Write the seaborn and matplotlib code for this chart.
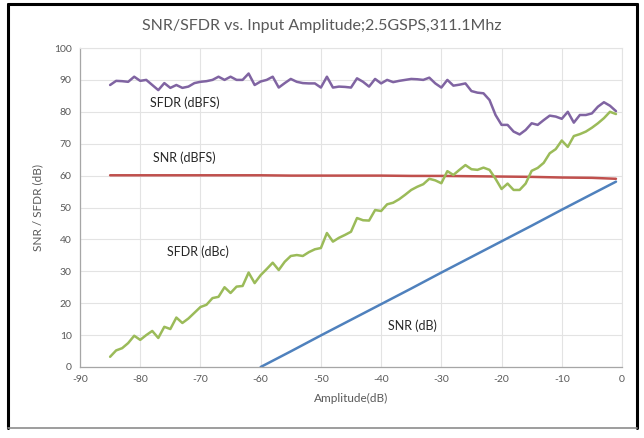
import matplotlib
matplotlib.use("Agg")
import matplotlib.pyplot as plt
from matplotlib.lines import Line2D
import numpy as np
import pandas as pd
import seaborn as sns

# ---------------- data ----------------
amp_full = list(range(-85, 0))  # -85 .. -1 dB

sfdr_dbfs = [88.4, 89.7, 89.6, 89.4, 91.0, 89.7, 90.0, 88.4, 86.8, 89.0,
             87.5, 88.4, 87.5, 87.9, 89.0, 89.4, 89.6, 90.0, 91.0, 90.0,
             91.0, 90.0, 90.0, 92.0, 88.4, 89.5, 90.0, 91.0, 87.6, 89.0,
             90.3, 89.4, 89.0, 88.9, 88.9, 87.6, 91.0, 87.6, 87.9, 87.8,
             87.6, 90.5, 89.4, 87.9, 90.3, 88.9, 90.0, 89.3, 89.7, 90.0,
             90.3, 90.2, 90.0, 90.7, 88.9, 87.6, 90.0, 88.2, 88.5, 88.9,
             86.5, 86.0, 85.8, 83.7, 79.0, 75.9, 75.9, 73.8, 72.9, 74.3,
             76.4, 75.9, 77.4, 78.8, 78.5, 77.8, 80.0, 76.6, 79.0, 79.0,
             79.5, 81.6, 83.0, 81.9, 80.2]

sfdr_dbc = [3.2, 5.2, 5.9, 7.5, 9.8, 8.5, 10.0, 11.3, 9.1, 12.6,
            11.9, 15.5, 13.8, 15.2, 17.0, 18.8, 19.5, 21.6, 22.0, 25.0,
            23.2, 25.2, 25.4, 29.6, 26.3, 28.8, 30.7, 32.7, 30.4, 33.0,
            34.8, 35.1, 34.8, 36.0, 36.9, 37.3, 42.0, 39.3, 40.5, 41.4,
            42.4, 46.7, 46.0, 45.9, 49.2, 48.9, 51.0, 51.5, 52.6, 54.0,
            55.5, 56.5, 57.3, 59.0, 58.5, 57.6, 61.4, 60.2, 61.8, 63.3,
            62.0, 61.8, 62.5, 61.8, 59.0, 55.8, 57.5, 55.5, 55.5, 57.5,
            61.5, 62.4, 64.0, 67.0, 68.3, 71.0, 69.0, 72.4, 73.0, 73.8,
            75.0, 76.4, 78.0, 80.0, 79.3]

amp_snr_dbfs = [-85, -80, -75, -70, -65, -60, -55, -50, -45, -40,
                -35, -30, -25, -20, -15, -10, -5, -1]
snr_dbfs = [60.1, 60.1, 60.1, 60.1, 60.1, 60.1, 60.0, 60.0, 60.0, 60.0,
            59.9, 59.9, 59.8, 59.7, 59.6, 59.4, 59.3, 59.0]

amp_snr_db = [-60, -55, -50, -45, -40, -35, -30, -25, -20, -15, -10, -5, -1]
snr_db = [0.0, 4.9, 9.9, 14.8, 19.7, 24.6, 29.6, 34.5, 39.4, 44.3, 49.3, 54.2, 58.1]

x_ticks = [-90, -80, -70, -60, -50, -40, -30, -20, -10, 0]
y_ticks = [0, 10, 20, 30, 40, 50, 60, 70, 80, 90, 100]

title = "SNR/SFDR vs. Input Amplitude;2.5GSPS,311.1Mhz"
xlabel = "Amplitude(dB)"
ylabel = "SNR / SFDR (dB)"

# ---------------- style ----------------
sns.set_style("white")
plt.rcParams['font.family'] = ['Lato', 'DejaVu Sans']

fig = plt.figure(figsize=(6.44, 4.38), dpi=100)
ax = fig.add_axes([80 / 644, 1 - 367 / 438, (622 - 80) / 644, (367 - 48) / 438])

c_purple = "#8064a2"
c_red = "#c0504d"
c_green = "#9bbb59"
c_blue = "#4f81bd"
lw = 1.8

df1 = pd.DataFrame({"amp": amp_full, "val": sfdr_dbfs})
df2 = pd.DataFrame({"amp": amp_snr_dbfs, "val": snr_dbfs})
df3 = pd.DataFrame({"amp": amp_full, "val": sfdr_dbc})
df4 = pd.DataFrame({"amp": amp_snr_db, "val": snr_db})

sns.lineplot(data=df1, x="amp", y="val", ax=ax, color=c_purple, lw=lw)
sns.lineplot(data=df2, x="amp", y="val", ax=ax, color=c_red, lw=lw)
sns.lineplot(data=df3, x="amp", y="val", ax=ax, color=c_green, lw=lw)
sns.lineplot(data=df4, x="amp", y="val", ax=ax, color=c_blue, lw=lw)

ax.set_xlim(-90, 0)
ax.set_ylim(0, 100)
ax.set_xticks(x_ticks)
ax.set_yticks(y_ticks)
ax.set_xticklabels([str(t) for t in x_ticks])
ax.set_yticklabels([str(t) for t in y_ticks])
ax.tick_params(axis="both", labelsize=7.5, colors="#595959", length=0, pad=6)
ax.grid(True, color="#e3e3e3", lw=0.8)
ax.set_axisbelow(True)
for s in ["top", "right"]:
    ax.spines[s].set_color("#e3e3e3")
    ax.spines[s].set_linewidth(0.8)
for s in ["left", "bottom"]:
    ax.spines[s].set_color("#a6a6a6")
    ax.spines[s].set_linewidth(0.9)

ax.set_xlabel(xlabel, fontsize=8.5, color="#595959", labelpad=6)
ax.set_ylabel(ylabel, fontsize=8.5, color="#595959", labelpad=8)

fig.text(322 / 644, 1 - 26 / 438, title, ha="center", va="center",
         fontsize=11.5, color="#595959")

txt_kw = dict(fontsize=9, color="#262626", va="center", ha="left")
ax.text(-78.4, 82.8, "SFDR (dBFS)", **txt_kw)
ax.text(-77.9, 65.5, "SNR (dBFS)", **txt_kw)
ax.text(-75.5, 36.0, "SFDR (dBc)", **txt_kw)
ax.text(-38.8, 12.9, "SNR (dB)", **txt_kw)

# outer frame
def fl(x0, y0, x1, y1, color, w):
    fig.add_artist(Line2D([x0 / 644, x1 / 644], [1 - y0 / 438, 1 - y1 / 438],
                          color=color, lw=w, transform=fig.transFigure))

fl(8, 4, 637, 4, "black", 2.2)
fl(8, 4, 8, 428, "black", 2.2)
fl(637, 4, 637, 428, "black", 2.2)
fl(8, 428, 637, 428, "#8c8c8c", 1.2)

fig.savefig("out.png", dpi=100)
